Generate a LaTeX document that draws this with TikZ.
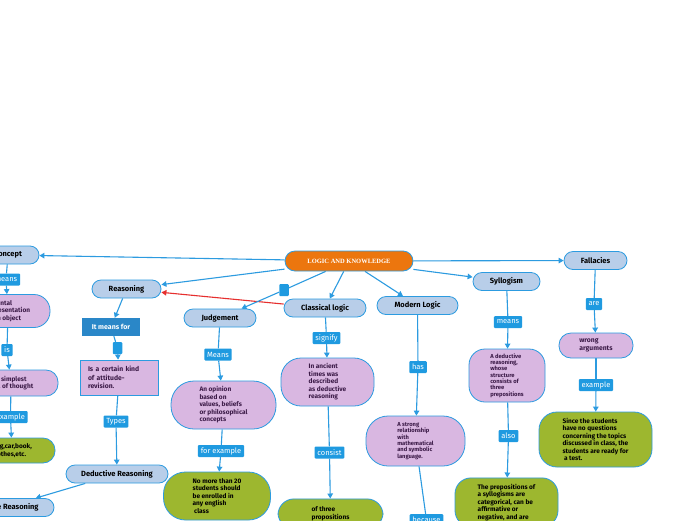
\documentclass[tikz,border=0pt]{standalone}
\usepackage{fontspec}
\setmainfont{Fira Sans}
\newfontfamily\titlefont{Liberation Serif}
\usetikzlibrary{arrows.meta}
\pgfdeclarelayer{bg}
\pgfsetlayers{bg,main}
\definecolor{lineblue}{HTML}{2C9BE0}
\definecolor{nodeblue}{HTML}{B8CEE9}
\definecolor{purp}{HTML}{D9B7E1}
\definecolor{grn}{HTML}{9DB72F}
\definecolor{labblue}{HTML}{1F9AE0}
\definecolor{darklab}{HTML}{2A87C8}
\definecolor{rootor}{HTML}{EC760E}
\definecolor{ptext}{HTML}{3B1A47}
\definecolor{redline}{HTML}{E62F2E}
\tikzset{
  conn/.style={draw=lineblue, line width=1.1pt},
  arr/.style={conn, -{Triangle[length=5pt,width=5.5pt]}},
  redarr/.style={draw=redline, line width=1.1pt, -{Triangle[length=5pt,width=5.5pt]}},
  bnode/.style={draw=lineblue, line width=0.8pt, fill=nodeblue, rounded corners=9pt,
    minimum height=18pt, inner sep=1pt, text=black, font=\fontsize{7.5}{8.5}\selectfont\bfseries},
  pnode/.style={draw=lineblue, line width=0.8pt, fill=purp, align=left, text=ptext,
    inner sep=1pt, font=\fontsize{6.5}{7.5}\selectfont\bfseries},
  psmall/.style={pnode, font=\fontsize{5.8}{6.3}\selectfont\bfseries},
  gnode/.style={draw=lineblue, line width=0.8pt, fill=grn, align=left, text=black,
    inner sep=1pt, font=\fontsize{6.5}{7.5}\selectfont\bfseries},
  lab/.style={fill=labblue, text=white, font=\fontsize{7.5}{8.5}\selectfont, rounded corners=1pt,
    inner xsep=2.8pt, inner ysep=1pt, minimum height=12pt},
  sq/.style={fill=labblue, rounded corners=1pt, minimum width=9.5pt, minimum height=12pt, inner sep=0pt},
}
\begin{document}
\begin{tikzpicture}[x=1pt,y=-1pt]
\useasboundingbox (0,0) rectangle (696,520);
\clip (0,0) rectangle (696,520);

% root
\node[draw=lineblue, line width=0.8pt, fill=rootor, rounded corners=10pt, minimum width=128pt,
  minimum height=20pt, text=white, font=\titlefont\bfseries\fontsize{6.5}{7}\selectfont]
  (root) at (349,261) {LOGIC AND KNOWLEDGE};

% left branch: concept
\node[bnode, minimum width=62pt] (concept) at (8,255) {Concept};
\node[lab] (means1) at (6,279.5) {means};
\node[pnode, rounded corners=16pt, minimum width=84pt, minimum height=33pt] (mental) at (8,311)
  {A mental\\representation\\of an object};
\node[lab] (is) at (7,350) {is};
\node[pnode, rounded corners=12pt, minimum width=94pt, minimum height=26pt] (simplest) at (11,383)
  {The simplest\\unit of thought};
\node[lab] (ex1) at (10.5,417) {example};
\node[gnode, rounded corners=12pt, minimum width=86pt, minimum height=25pt] (dog) at (12,450.5)
  {dog,car,book,\\clothes,etc.};

% reasoning
\node[bnode, minimum width=69pt] (reasoning) at (126.5,289) {Reasoning};
\node[fill=darklab, text=white, minimum width=58pt, minimum height=18pt, inner sep=1pt,
  font=\fontsize{7}{8}\selectfont\bfseries] (itmeans) at (111,327) {It means for};
\node[sq] (sq1) at (117.5,348) {};
\node[pnode, rounded corners=0pt, minimum width=78pt, minimum height=35pt, text width=62pt,
  font=\fontsize{6.8}{8.4}\selectfont\bfseries] (attitude) at (119,377.5)
  {Is a certain kind\\of attitude-\\revision.};
\node[lab] (types) at (116,421.5) {Types};
\node[bnode, minimum width=102pt] (deductive) at (117,474) {Deductive Reasoning};
\node[bnode, minimum width=100pt] (inductive) at (4,507.5) {Inductive Reasoning};

% judgement
\node[sq] (sq2) at (284,290) {};
\node[bnode, minimum width=72pt] (judgement) at (220,318) {Judgement};
\node[lab] (means2) at (218,354.5) {Means};
\node[pnode, rounded corners=23pt, minimum width=105pt, minimum height=48pt] (opinion) at (223.5,405)
  {An opinion\\based on\\values, beliefs\\or philosophical\\concepts};
\node[lab] (forex) at (221,451) {for example};
\node[gnode, rounded corners=22pt, minimum width=107pt, minimum height=48pt] (nomore) at (217,496)
  {No more than 20\\students should\\be enrolled in\\any english\\\ class};

% classical logic
\node[bnode, minimum width=82pt] (classical) at (325,308) {Classical logic};
\node[lab] (signify) at (326.5,338) {signify};
\node[pnode, rounded corners=20pt, minimum width=93pt, minimum height=48pt] (ancient) at (327.5,382)
  {In ancient\\times was\\described\\as deductive\\reasoning};
\node[lab] (consist) at (329.5,452.5) {consist};
\node[gnode, rounded corners=16pt, minimum width=105pt, anchor=north, inner ysep=8pt] (three) at (330.5,498.5)
  {of three\\propositions};

% modern logic
\node[bnode, minimum width=81pt] (modern) at (417.5,305.5) {Modern Logic};
\node[lab] (has) at (418,367) {has};
\node[psmall, rounded corners=22pt, minimum width=99pt, minimum height=50pt] (strong) at (415.5,441)
  {A strong\\relationship\\with\\mathematical\\and symbolic\\language.};
\node[lab, anchor=north] (because) at (426.5,514) {because};

% syllogism
\node[bnode, minimum width=67pt] (syllogism) at (506.5,281.5) {Syllogism};
\node[lab] (means3) at (508,322) {means};
\node[psmall, rounded corners=16pt, minimum width=76pt, minimum height=53pt] (dedreas) at (507,375.5)
  {A deductive\\reasoning,\\whose\\structure\\consists of\\three\\prepositions};
\node[lab] (also) at (508.5,436) {also};
\node[gnode, rounded corners=16pt, minimum width=103pt, anchor=north, inner ysep=6pt] (prep) at (506.5,477.5)
  {The prepositions of\\a syllogisms are\\categorical, can be\\affirmative or\\negative, and are};

% fallacies
\node[bnode, minimum width=63pt] (fallacies) at (595.5,260.5) {Fallacies};
\node[lab] (are) at (594,304) {are};
\node[pnode, rounded corners=12pt, minimum width=74pt, minimum height=25pt,
  font=\fontsize{6.8}{8}\selectfont\bfseries] (wrong) at (596,345.5)
  {wrong\\arguments};
\node[lab] (ex2) at (596,385) {example};
\node[gnode, rounded corners=18pt, minimum width=113pt, minimum height=55pt] (since) at (595.5,439.5)
  {Since the students\\have no questions\\concerning the topics\\discussed in class, the\\students are ready for\\\ a test.};

\begin{pgfonlayer}{bg}
  \fill[white] (0,0) rectangle (696,520);
  \draw[arr] (root) -- (concept);
  \draw[arr] (root) -- (reasoning);
  \draw[redarr] (classical) -- (reasoning);
  \draw[conn] (root) -- (sq2);
  \draw[arr] (root) -- (classical);
  \draw[arr] (root) -- (modern);
  \draw[arr] (root) -- (syllogism);
  \draw[arr] (root) -- (fallacies);

  \draw[conn] (concept) -- (means1);
  \draw[arr] (means1) -- (mental);
  \draw[conn] (mental) -- (is);
  \draw[arr] (is) -- (simplest);
  \draw[conn] (simplest) -- (ex1);
  \draw[arr] (ex1) -- (dog);

  \draw[arr] (reasoning) -- (itmeans);
  \draw[conn] (itmeans) -- (sq1);
  \draw[arr] (sq1) -- (attitude);
  \draw[conn] (attitude) -- (types);
  \draw[arr] (types) -- (deductive);
  \draw[arr] (deductive) -- (inductive);

  \draw[arr] (sq2) -- (judgement);
  \draw[conn] (judgement) -- (means2);
  \draw[arr] (means2) -- (opinion);
  \draw[conn] (opinion) -- (forex);
  \draw[arr] (forex) -- (nomore);

  \draw[conn] (classical) -- (signify);
  \draw[arr] (signify) -- (ancient);
  \draw[conn] (ancient) -- (consist);
  \draw[arr] (consist) -- (three);

  \draw[conn] (modern) -- (has);
  \draw[arr] (has) -- (strong);
  \draw[conn] (strong) -- (because);

  \draw[conn] (syllogism) -- (means3);
  \draw[arr] (means3) -- (dedreas);
  \draw[conn] (dedreas) -- (also);
  \draw[arr] (also) -- (prep);

  \draw[conn] (fallacies) -- (are);
  \draw[arr] (are) -- (wrong);
  \draw[conn] (wrong) -- (ex2);
  \draw[arr] (ex2) -- (since);
\end{pgfonlayer}
\end{tikzpicture}
\end{document}
